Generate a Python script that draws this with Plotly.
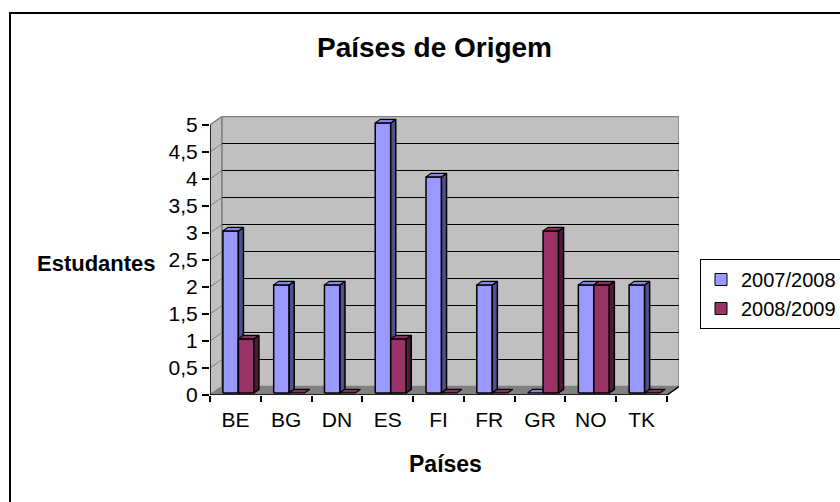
import plotly.graph_objects as go

categories = ["BE", "BG", "DN", "ES", "FI", "FR", "GR", "NO", "TK"]
series_names = ["2007/2008", "2008/2009"]
values_0708 = [3, 2, 2, 5, 4, 2, 0, 2, 2]
values_0809 = [1, 0, 0, 1, 0, 0, 3, 2, 0]
y_tickvals = [0, 0.5, 1, 1.5, 2, 2.5, 3, 3.5, 4, 4.5, 5]

# styling / geometry constants (3D pseudo-depth in axis units)
DX = 12 / 50.78
DY = 8.5 / 54.0
F0 = 0.25        # bar front position as fraction of depth
FD = 0.42        # bar depth as fraction of depth
W = 0.305        # bar width
YMAX = 5
FONT = "Liberation Sans, Arial, sans-serif"

front_cols = ["#9999FF", "#993366"]
top_cols = ["#8585EE", "#8A2E5C"]
side_cols = ["#50508A", "#4F1A35"]

fig = go.Figure()
n = len(categories)
x0w, x1w = -0.5, n - 0.5

def poly(xs, ys, fill, line_col="black", lw=1.5):
    fig.add_trace(go.Scatter(x=xs + [xs[0]], y=ys + [ys[0]], mode="lines", fill="toself",
                             fillcolor=fill, line=dict(color=line_col, width=lw),
                             hoverinfo="skip", showlegend=False))

# side wall, back wall, floor
poly([x0w, x0w + DX, x0w + DX, x0w], [0, DY, YMAX + DY, YMAX], "#C0C0C0", "#808080", 1.5)
poly([x0w + DX, x1w + DX, x1w + DX, x0w + DX], [DY, DY, YMAX + DY, YMAX + DY], "#C0C0C0", "#808080", 1.5)
poly([x0w, x1w, x1w + DX, x0w + DX], [0, 0, DY, DY], "#808080", "#808080", 1)

# gridlines on back wall and side wall
gx, gy = [], []
sx, sy = [], []
for v in y_tickvals[1:-1]:
    gx += [x0w + DX, x1w + DX, None]
    gy += [v + DY, v + DY, None]
    sx += [x0w, x0w + DX, None]
    sy += [v, v + DY, None]
fig.add_trace(go.Scatter(x=gx, y=gy, mode="lines", line=dict(color="black", width=1.2),
                         hoverinfo="skip", showlegend=False))
fig.add_trace(go.Scatter(x=sx, y=sy, mode="lines", line=dict(color="#808080", width=1),
                         hoverinfo="skip", showlegend=False))

# bars
series = [values_0708, values_0809]
for i in range(n):
    for s, vals in enumerate(series):
        v = vals[i]
        xa = i - W + s * W + F0 * DX
        xb = xa + W
        yb = F0 * DY
        yt = v + F0 * DY
        ddx, ddy = FD * DX, FD * DY
        if v > 0:
            poly([xa, xb, xb, xa], [yb, yb, yt, yt], front_cols[s])
            poly([xb, xb + ddx, xb + ddx, xb], [yb, yb + ddy, yt + ddy, yt], side_cols[s])
        poly([xa, xb, xb + ddx, xa + ddx], [yt, yt, yt + ddy, yt + ddy], top_cols[s], "black", 1.2)

# front axis lines
fig.add_trace(go.Scatter(x=[x0w, x0w, None, x0w, x1w, x1w + DX], y=[YMAX, 0, None, 0, 0, DY],
                         mode="lines", line=dict(color="black", width=1.5),
                         hoverinfo="skip", showlegend=False))

# legend entries
for s in range(2):
    fig.add_trace(go.Scatter(x=[None], y=[None], mode="markers", name=series_names[s],
                             marker=dict(symbol="square", size=12, color=front_cols[s],
                                         line=dict(color="black", width=1))))

fig.update_layout(
    width=840, height=502,
    margin=dict(l=210, r=161, t=116, b=107, autoexpand=False),
    paper_bgcolor="white", plot_bgcolor="white",
    separators=",.",
    font=dict(family=FONT, size=21, color="black"),
    showlegend=True,
    legend=dict(x=(700 - 210) / 469, y=(395 - 259) / 279, xanchor="left", yanchor="top",
                bordercolor="black", borderwidth=1, bgcolor="white",
                font=dict(size=20), itemwidth=30, tracegroupgap=0),
    xaxis=dict(range=[-0.5, x1w + DX], showgrid=False, zeroline=False, showline=False,
               tickmode="array", tickvals=list(range(n)), ticktext=categories, ticks="",
               ticklabelstandoff=10,
               minor=dict(tickmode="array", tickvals=[k - 0.5 for k in range(n + 1)],
                          ticks="outside", ticklen=6, tickcolor="black", tickwidth=1.5,
                          showgrid=False),
               tickfont=dict(size=21), fixedrange=True),
    yaxis=dict(range=[0, (395 - 116) / 54.0], showgrid=False, zeroline=False, showline=False,
               tickmode="array", tickvals=y_tickvals, ticks="outside", ticklen=7,
               tickcolor="black", tickwidth=1.5, tickfont=dict(size=21), fixedrange=True),
    shapes=[dict(type="rect", xref="paper", yref="paper",
                 x0=(10 - 210) / 469, x1=2.0, y0=-1.0, y1=(395 - 13) / 279,
                 line=dict(color="black", width=2), fillcolor="rgba(0,0,0,0)", layer="below")],
    annotations=[
        dict(text="<b>Países de Origem</b>", xref="paper", yref="paper",
             x=(434 - 210) / 469, y=(395 - 48) / 279, showarrow=False,
             font=dict(size=28), xanchor="center", yanchor="middle"),
        dict(text="<b>Estudantes</b>", xref="paper", yref="paper",
             x=(158 - 210) / 469, y=(395 - 263) / 279, showarrow=False,
             font=dict(size=22), xanchor="right", yanchor="middle"),
        dict(text="<b>Países</b>", xref="paper", yref="paper",
             x=(445 - 210) / 469, y=(395 - 464) / 279, showarrow=False,
             font=dict(size=23), xanchor="center", yanchor="middle"),
    ],
)

fig.write_html("out.html", config={"displayModeBar": False},
               post_script="document.body.style.margin='0px';document.body.style.overflow='hidden';")
